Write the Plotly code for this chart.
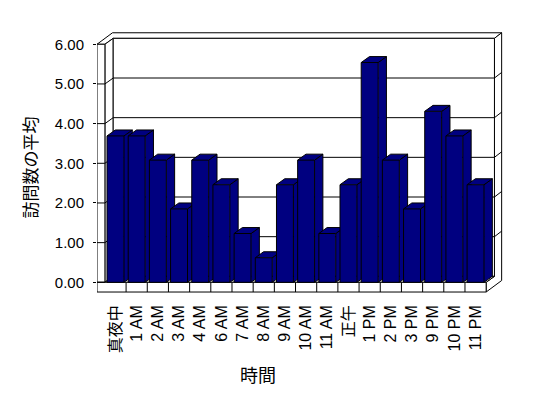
import plotly.graph_objects as go

categories = ["真夜中", "1 AM", "2 AM", "3 AM", "4 AM", "6 AM", "7 AM", "8 AM", "9 AM",
              "10 AM", "11 AM", "正午", "1 PM", "2 PM", "3 PM", "9 PM", "10 PM", "11 PM"]
values = [3.69, 3.69, 3.08, 1.85, 3.08, 2.46, 1.23, 0.62, 2.46,
          3.08, 1.23, 2.46, 5.54, 3.08, 1.85, 4.31, 3.69, 2.46]
y_tick_values = [0, 1, 2, 3, 4, 5, 6]
y_tick_labels = ["0.00", "1.00", "2.00", "3.00", "4.00", "5.00", "6.00"]
x_title = "時間"
y_title = "訪問数の平均"

N = len(categories)
BAR_W = 0.80
DX, DY = 0.392, 0.150      # depth of plot box / bars (category units, value units)
DX2, DY2 = 0.34, 0.14      # extra slab thickness of back wall
FLOOR_T = 0.245
X_RANGE = [-0.8735, 18.39]
Y_RANGE = [-0.32, 6.36]
XL0 = X_RANGE[0]
XL1 = -0.5
XR = N - 0.5
YTOP = y_tick_values[-1]
NAVY = "#000080"
FONT = "Liberation Sans, Arial, Noto Sans CJK JP, sans-serif"


def path(pts):
    return "M " + " L ".join(f"{x},{y}" for x, y in pts) + " Z"


shapes = []
line = dict(color="black", width=1)


def poly(pts, fill="white"):
    shapes.append(dict(type="path", xref="x", yref="y", path=path(pts),
                       fillcolor=fill, line=line, layer="below"))


def seg(x0, y0, x1, y1):
    shapes.append(dict(type="line", xref="x", yref="y", x0=x0, y0=y0, x1=x1, y1=y1,
                       line=line, layer="below"))


# top of left wall + back wall
poly([(XL0, YTOP), (XL0 + DX + DX2, YTOP + DY + DY2), (XR + DX + DX2, YTOP + DY + DY2),
      (XR + DX, YTOP + DY), (XL1 + DX, YTOP + DY), (XL1, YTOP)])
# right side of back wall + floor
poly([(XR, -FLOOR_T), (XR + DX + DX2, -FLOOR_T + DY + DY2), (XR + DX + DX2, YTOP + DY + DY2),
      (XR + DX, YTOP + DY), (XR + DX, DY), (XR, 0)])
# left wall inner face
poly([(XL1, 0), (XL1, YTOP), (XL1 + DX, YTOP + DY), (XL1 + DX, DY)])
# back wall face
poly([(XL1 + DX, DY), (XL1 + DX, YTOP + DY), (XR + DX, YTOP + DY), (XR + DX, DY)])
# floor top
poly([(XL1, 0), (XR, 0), (XR + DX, DY), (XL1 + DX, DY)])
# left wall front edge
poly([(XL0, 0), (XL0, YTOP), (XL1, YTOP), (XL1, 0)])
# floor front
poly([(XL0, -FLOOR_T), (XL0, 0), (XR, 0), (XR, -FLOOR_T)])

for v in y_tick_values[1:-1]:
    seg(XL1 + DX, v + DY, XR + DX, v + DY)           # back wall grid
    seg(XL1, v, XL1 + DX, v + DY)                    # left wall grid
    seg(XR + DX, v + DY, XR + DX + DX2, v + DY + DY2)  # right edge grid
for v in y_tick_values[:-1]:
    seg(XL0, v, XL1, v)                              # tick across left wall edge
for k in range(N - 1):
    seg(k + 0.5, -FLOOR_T, k + 0.5, 0)               # floor separators

fig = go.Figure()
h = BAR_W / 2
for i, v in enumerate(values):
    fig.add_trace(go.Scatter(
        x=[i + h, i + h + DX, i + h + DX, i + h], y=[0, DY, v + DY, v],
        fill="toself", fillcolor=NAVY, mode="lines", line=dict(color="black", width=1),
        showlegend=False, hoverinfo="skip"))
for i, v in enumerate(values):
    fig.add_trace(go.Scatter(
        x=[i - h, i - h + DX, i + h + DX, i + h], y=[v, v + DY, v + DY, v],
        fill="toself", fillcolor=NAVY, mode="lines", line=dict(color="black", width=1),
        showlegend=False, hoverinfo="skip"))

fig.add_trace(go.Bar(
    x=list(range(N)), y=values, width=BAR_W, xaxis="x2", yaxis="y2",
    marker=dict(color=NAVY, line=dict(color="black", width=1)),
    showlegend=False, hoverinfo="skip"))

# page body has an 8px margin, so the figure is 8px smaller and margins 8px less
fig.update_layout(
    width=540, height=390,
    margin=dict(l=89, r=43, t=22, b=103, autoexpand=False),
    paper_bgcolor="white", plot_bgcolor="rgba(0,0,0,0)",
    font=dict(family=FONT, color="black"),
    shapes=shapes,
    xaxis=dict(range=X_RANGE, tickmode="array", tickvals=list(range(N)), ticktext=categories,
               tickangle=-90, ticks="", showgrid=False, zeroline=False, showline=False,
               automargin=False, ticklabelstandoff=6,
               tickfont=dict(size=16, family=FONT, color="black")),
    yaxis=dict(range=Y_RANGE, tickmode="array", tickvals=y_tick_values, ticktext=y_tick_labels,
               ticks="outside", ticklen=3, tickcolor="black", showgrid=False, zeroline=False,
               showline=False, automargin=False, ticklabelstandoff=6,
               tickfont=dict(size=15, family=FONT, color="black")),
    xaxis2=dict(range=X_RANGE, overlaying="x", visible=False),
    yaxis2=dict(range=Y_RANGE, overlaying="y", visible=False),
    annotations=[
        dict(text=x_title, xref="paper", yref="paper", x=0.395, y=-0.306,
             xanchor="center", yanchor="middle", showarrow=False,
             font=dict(size=18, family=FONT, color="black")),
        dict(text=y_title, xref="paper", yref="paper", x=-0.16, y=0.48, textangle=-90,
             xanchor="center", yanchor="middle", showarrow=False,
             font=dict(size=17, family=FONT, color="black")),
    ],
)

fig.write_html("out.html")
